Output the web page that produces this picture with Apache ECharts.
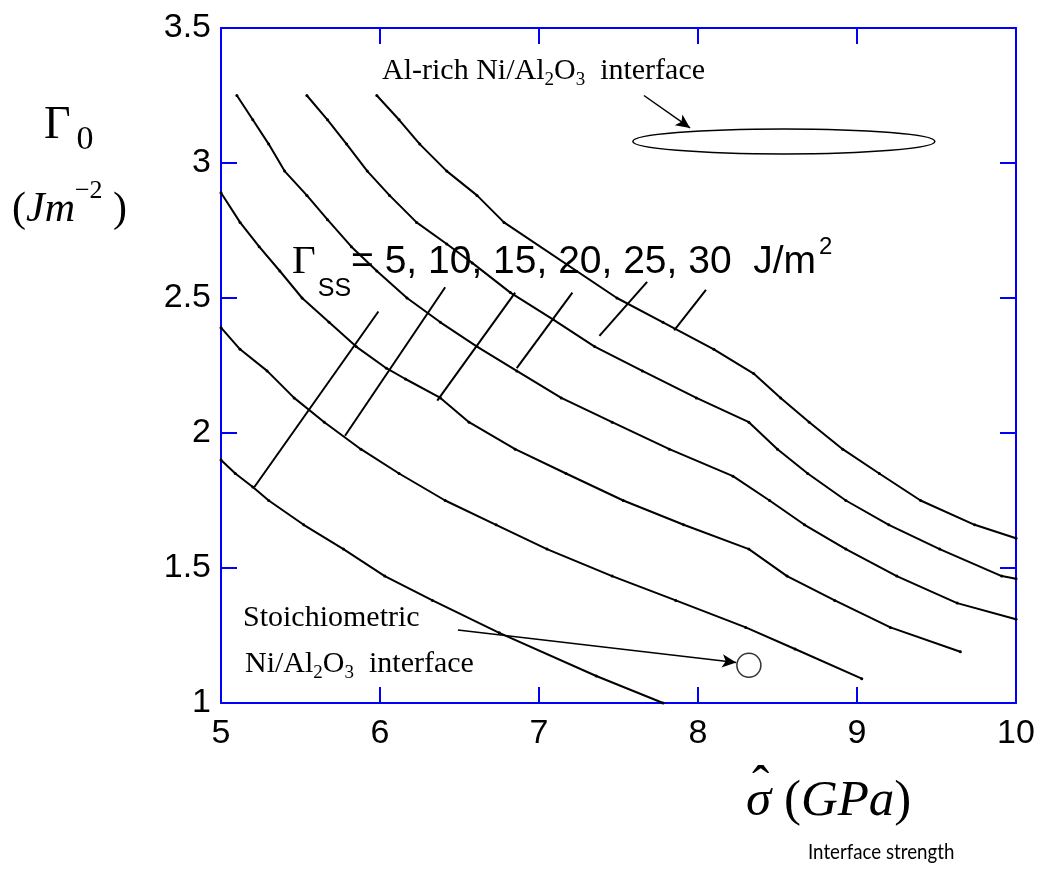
<!DOCTYPE html>
<html>
<head>
<meta charset="utf-8">
<script src="https://cdn.jsdelivr.net/npm/echarts@6/dist/echarts.min.js"></script>
<style>html,body{margin:0;padding:0;background:#fff}#chart{width:1043px;height:877px}</style>
</head>
<body>
<div id="chart"></div>
<script>
// ==================== DATA ====================
const xRange=[5,10], yRange=[1,3.5];
const gssLevels=[5,10,15,20,25,30];

// Gamma_0 vs sigma-hat, one curve per Gamma_ss
const gss5=[[5.00,1.90],[5.09,1.85],[5.20,1.80],[5.30,1.75],[5.52,1.66],[5.77,1.57],[6.03,1.47],[6.33,1.38],[6.75,1.26],[7.36,1.10],[7.78,1.00]];
const gss10=[[5.00,2.39],[5.12,2.31],[5.29,2.23],[5.46,2.13],[5.65,2.04],[5.88,1.94],[6.12,1.85],[6.41,1.75],[6.73,1.66],[7.05,1.57],[7.46,1.47],[7.86,1.38],[8.30,1.28],[8.61,1.20],[9.03,1.09]];
const gss15=[[5.00,2.89],[5.12,2.78],[5.24,2.69],[5.37,2.60],[5.51,2.50],[5.68,2.41],[5.85,2.32],[6.04,2.24],[6.16,2.20],[6.38,2.13],[6.56,2.04],[6.85,1.94],[7.17,1.85],[7.53,1.75],[7.91,1.66],[8.32,1.57],[8.56,1.47],[8.86,1.38],[9.21,1.28],[9.65,1.19]];
const gss20=[[5.10,3.25],[5.20,3.16],[5.30,3.07],[5.40,2.97],[5.54,2.88],[5.67,2.79],[5.82,2.69],[5.98,2.60],[6.17,2.50],[6.38,2.41],[6.61,2.32],[6.86,2.23],[7.14,2.13],[7.46,2.04],[7.82,1.94],[8.22,1.84],[8.45,1.75],[8.67,1.66],[8.93,1.57],[9.25,1.47],[9.63,1.37],[10.00,1.31]];
const gss25=[[5.54,3.25],[5.67,3.16],[5.79,3.07],[5.92,2.97],[6.06,2.88],[6.23,2.78],[6.42,2.70],[6.58,2.63],[6.82,2.52],[7.09,2.42],[7.35,2.32],[7.65,2.23],[7.99,2.13],[8.32,2.04],[8.50,1.94],[8.69,1.85],[8.93,1.75],[9.20,1.66],[9.52,1.57],[9.91,1.47],[10.00,1.46]];
const gss30=[[5.98,3.25],[6.12,3.16],[6.25,3.07],[6.42,2.97],[6.61,2.88],[6.78,2.78],[7.49,2.50],[7.78,2.41],[8.10,2.31],[8.35,2.22],[8.52,2.13],[8.70,2.04],[8.91,1.94],[9.14,1.85],[9.40,1.75],[9.74,1.66],[10.00,1.61]];
const curves=[gss5,gss10,gss15,gss20,gss25,gss30];

// leader lines from the Gamma_ss label down to each curve
const leaders=[
  [[5.21,1.80],[5.99,2.45]],
  [[5.78,1.99],[6.41,2.54]],
  [[6.36,2.12],[6.85,2.52]],
  [[6.86,2.24],[7.21,2.52]],
  [[7.38,2.36],[7.68,2.56]],
  [[7.85,2.38],[8.05,2.53]],
];

// measured interfaces
const alRichRegion=[8.54,3.08];
const stoichPoint=[8.32,1.14];
const alRichArrow=[[7.66,3.25],[7.95,3.13]];
const stoichArrow=[[6.49,1.27],[8.24,1.15]];

// ==================== CHART ====================
const blue='#0000ff';
const serif='"Liberation Serif","Times New Roman",serif';
const sans='"Liberation Sans",Arial,sans-serif';

const axisCommon={
  type:'value',
  axisLine:{show:true,lineStyle:{color:blue,width:2}},
  axisTick:{show:true,inside:true,length:16,lineStyle:{color:blue,width:2}},
  splitLine:{show:false},
};

const series=[];
curves.forEach((c,i)=>{
  series.push({name:'Gss '+gssLevels[i],type:'line',data:c,symbol:'circle',symbolSize:3,
    itemStyle:{color:'#000'},lineStyle:{color:'#000',width:2},z:3});
});
leaders.forEach(l=>{
  series.push({type:'line',data:l,symbol:'none',lineStyle:{color:'#000',width:2},z:3});
});
// Al-rich interface: ellipse drawn around its data centre
series.push({type:'custom',data:[alRichRegion],z:4,
  renderItem:(params,api)=>{
    const c=api.coord([api.value(0),api.value(1)]);
    return {type:'ellipse',shape:{cx:c[0],cy:c[1],rx:151,ry:12.5},style:{fill:'none',stroke:'#000',lineWidth:1.5}};
  },
  markLine:{silent:true,symbol:['none','arrow'],symbolSize:[10,14],label:{show:false},
    lineStyle:{color:'#000',width:1.5,type:'solid'},
    data:[[{coord:alRichArrow[0]},{coord:alRichArrow[1]}],[{coord:stoichArrow[0]},{coord:stoichArrow[1]}]]}});
series.push({type:'scatter',data:[stoichPoint],symbol:'circle',symbolSize:24,
  itemStyle:{color:'#fff',borderColor:'#000',borderWidth:1.5},z:4});

function rt(x,y,text,rich,extra){
  return Object.assign({type:'text',x:x,y:y,z:100,style:{text:text,rich:rich,fill:'#000',align:'left',verticalAlign:'top'}},extra||{});
}

const graphic=[
  rt(382,50,'{n|Al-rich Ni/Al}{s|2}{n|O}{s|3}{n|  interface}',{
    n:{fontFamily:serif,fontSize:30,padding:[6,0,0,0],verticalAlign:'top'},
    s:{fontFamily:serif,fontSize:19,padding:[21,0,0,0],verticalAlign:'top'}}),
  rt(243,600,'{n|Stoichiometric}',{
    n:{fontFamily:serif,fontSize:30,padding:[3,0,0,0],verticalAlign:'top'}}),
  rt(245,646,'{n|Ni/Al}{s|2}{n|O}{s|3}{n|  interface}',{
    n:{fontFamily:serif,fontSize:30,padding:[3,0,0,0],verticalAlign:'top'},
    s:{fontFamily:serif,fontSize:19,padding:[18,0,0,0],verticalAlign:'top'}}),
  rt(44,98,'{g|Γ}{z|0}',{
    g:{fontFamily:serif,fontSize:46,padding:[5,0,0,0],verticalAlign:'top'},
    z:{fontFamily:serif,fontSize:34,padding:[25,0,0,6],verticalAlign:'top'}}),
  rt(12,175,'{p|(}{i|Jm}{e|−2}{p| )}',{
    p:{fontFamily:serif,fontSize:42,padding:[14,0,0,0],verticalAlign:'top'},
    i:{fontFamily:serif,fontSize:42,fontStyle:'italic',padding:[14,0,0,0],verticalAlign:'top'},
    e:{fontFamily:serif,fontSize:26,padding:[3,0,0,0],verticalAlign:'top'}}),
  rt(292,230,'{g|Γ}{s|SS}{n|= 5, 10, 15, 20, 25, 30  J/m}{e|2}',{
    g:{fontFamily:serif,fontSize:41,padding:[12,0,0,0],verticalAlign:'top'},
    s:{fontFamily:sans,fontSize:25,padding:[47,0,0,2],verticalAlign:'top'},
    n:{fontFamily:sans,fontSize:39,padding:[13,0,0,0],verticalAlign:'top'},
    e:{fontFamily:sans,fontSize:24,padding:[5,0,0,3],verticalAlign:'top'}}),
  rt(746,760,'{g|σ}{p| (}{i|GPa}{p|)}',{
    g:{fontFamily:serif,fontSize:51,fontStyle:'italic',padding:[16,0,0,0],verticalAlign:'top'},
    p:{fontFamily:serif,fontSize:51,padding:[16,0,0,0],verticalAlign:'top'},
    i:{fontFamily:serif,fontSize:51,fontStyle:'italic',padding:[16,0,0,0],verticalAlign:'top'}}),
  rt(752,762,'{h|ˆ}',{h:{fontFamily:serif,fontSize:52,verticalAlign:'top'}}),
  rt(808,841,'{n|Interface strength}',{n:{fontFamily:'Lato,sans-serif',fontSize:22,verticalAlign:'top'}},{scaleX:0.85}),
];

const option={
  backgroundColor:'#fff',
  animation:false,
  grid:{left:221,right:27,top:28,bottom:174,containLabel:false},
  xAxis:[
    Object.assign({},axisCommon,{min:xRange[0],max:xRange[1],interval:1,position:'bottom',
      axisLabel:{color:'#000',fontSize:34,fontFamily:sans,margin:14}}),
    Object.assign({},axisCommon,{min:xRange[0],max:xRange[1],interval:1,position:'top',axisLabel:{show:false}}),
  ],
  yAxis:[
    Object.assign({},axisCommon,{min:yRange[0],max:yRange[1],interval:0.5,position:'left',
      axisLabel:{color:'#000',fontSize:34,fontFamily:sans,margin:10}}),
    Object.assign({},axisCommon,{min:yRange[0],max:yRange[1],interval:0.5,position:'right',axisLabel:{show:false}}),
  ],
  series,
  graphic,
};

const chart=echarts.init(document.getElementById('chart'));
chart.setOption(option);
</script>
</body>
</html>
